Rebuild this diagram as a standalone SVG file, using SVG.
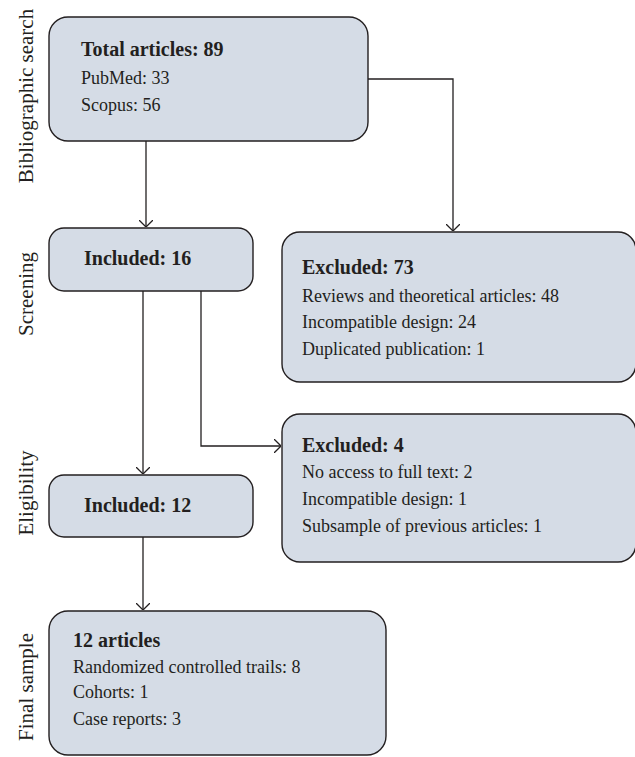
<svg xmlns="http://www.w3.org/2000/svg" width="635" height="757" viewBox="0 0 635 757">
<style>
.box{fill:#d5dce6;stroke:#231f20;stroke-width:1.4}
.t{font-family:"Liberation Serif","Times New Roman",serif;font-size:18px;fill:#231f20}
.b{font-family:"Liberation Serif","Times New Roman",serif;font-size:20px;font-weight:bold;fill:#231f20}
.side{font-family:"Liberation Serif","Times New Roman",serif;font-size:21px;fill:#231f20;text-anchor:middle}
.c{fill:none;stroke:#231f20;stroke-width:1.3}
</style>
<defs>
<marker id="arr" viewBox="0 0 7 14" refX="7" refY="7" markerWidth="7" markerHeight="14" markerUnits="userSpaceOnUse" orient="auto">
<path d="M0,0 L7,7 L0,14" fill="none" stroke="#231f20" stroke-width="1.3"/>
</marker>
</defs>
<g id="side-labels">
<text class="side" transform="translate(33,96) rotate(-90)">Bibliographic search</text>
<text class="side" transform="translate(33,294) rotate(-90)">Screening</text>
<text class="side" transform="translate(33,493) rotate(-90)">Eligibility</text>
<text class="side" transform="translate(33,687) rotate(-90)">Final sample</text>
</g>
<g id="connectors">
<path class="c" d="M146,141 V227" marker-end="url(#arr)"/>
<path class="c" d="M368,79 H453 V231" marker-end="url(#arr)"/>
<path class="c" d="M143,291 V474" marker-end="url(#arr)"/>
<path class="c" d="M201,291 V446 H281" marker-end="url(#arr)"/>
<path class="c" d="M143,537 V610" marker-end="url(#arr)"/>
</g>
<g id="total">
<rect class="box" x="49" y="17" width="319" height="124" rx="19"/>
<text class="b" x="81" y="56">Total articles: 89</text>
<text class="t" x="81" y="84">PubMed: 33</text>
<text class="t" x="81" y="111">Scopus: 56</text>
</g>
<g id="included16">
<rect class="box" x="49" y="228" width="204" height="63" rx="15"/>
<text class="b" x="84" y="265">Included: 16</text>
</g>
<g id="excluded73">
<rect class="box" x="282" y="232" width="354" height="150" rx="18"/>
<text class="b" x="302" y="274">Excluded: 73</text>
<text class="t" x="302" y="302">Reviews and theoretical articles: 48</text>
<text class="t" x="302" y="328">Incompatible design: 24</text>
<text class="t" x="302" y="355">Duplicated publication: 1</text>
</g>
<g id="included12">
<rect class="box" x="49" y="475" width="204" height="62" rx="15"/>
<text class="b" x="84" y="512">Included: 12</text>
</g>
<g id="excluded4">
<rect class="box" x="282" y="414" width="354" height="148" rx="18"/>
<text class="b" x="302" y="452">Excluded: 4</text>
<text class="t" x="302" y="478">No access to full text: 2</text>
<text class="t" x="302" y="505">Incompatible design: 1</text>
<text class="t" x="302" y="532">Subsample of previous articles: 1</text>
</g>
<g id="final">
<rect class="box" x="49" y="611" width="337" height="144" rx="19"/>
<text class="b" x="73" y="647">12 articles</text>
<text class="t" x="73" y="673">Randomized controlled trails: 8</text>
<text class="t" x="73" y="698">Cohorts: 1</text>
<text class="t" x="73" y="725">Case reports: 3</text>
</g>
</svg>
